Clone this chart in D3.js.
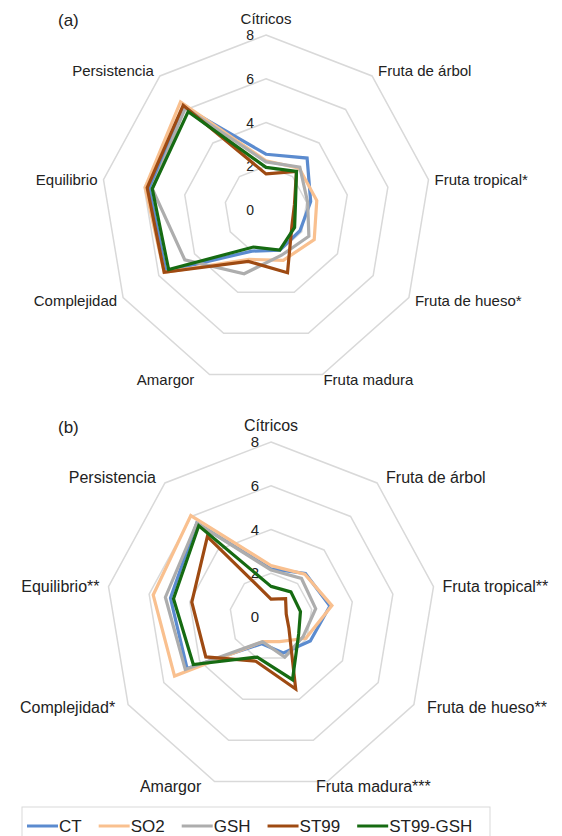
<!DOCTYPE html>
<html>
<head>
<meta charset="utf-8">
<script src="https://cdn.jsdelivr.net/npm/d3@7"></script>
<style>
  body { margin: 0; background: #fff; }
  svg { display: block; font-family: "Liberation Sans", Arial, sans-serif; }
</style>
</head>
<body>
<svg width="562" height="836"></svg>
<script>
// attribute axes, clockwise from the top
const axesA = ["Cítricos", "Fruta de árbol", "Fruta tropical*", "Fruta de hueso*", "Fruta madura",
               "Amargor", "Complejidad", "Equilibrio", "Persistencia"];
const axesB = ["Cítricos", "Fruta de árbol", "Fruta tropical**", "Fruta de hueso**", "Fruta madura***",
               "Amargor", "Complejidad*", "Equilibrio**", "Persistencia"];

const seriesNames = ["CT", "SO2", "GSH", "ST99", "ST99-GSH"];
const seriesColors = ["#5b8bcf", "#f9c08f", "#adadad", "#9e4a12", "#166b12"];

const ticks = [0, 2, 4, 6, 8];

// panel (a) scores
const ctA     = [2.55, 3.1, 2.2, 1.9, 1.95, 2.0, 5.6, 5.75, 6.15];
const so2A    = [2.25, 2.5, 2.5, 2.7, 2.45, 2.4, 5.7, 5.95, 6.45];
const gshA    = [2.2, 2.55, 2.05, 2.4, 2.2, 3.1, 4.55, 5.6, 6.1];
const st99A   = [1.65, 2.3, 1.4, 1.45, 3.05, 2.5, 5.7, 5.85, 6.25];
const st99gA  = [1.95, 2.3, 1.45, 1.6, 1.95, 1.8, 5.45, 5.6, 5.87];

// panel (b) scores
const ctB     = [2.2, 2.6, 2.9, 2.2, 1.75, 1.3, 4.7, 4.95, 5.6];
const so2B    = [2.35, 2.55, 3.0, 1.95, 1.2, 1.2, 5.4, 5.8, 6.05];
const gshB    = [2.15, 2.3, 2.2, 1.8, 1.95, 1.2, 4.8, 5.2, 5.6];
const st99B   = [0.82, 1.1, 0.75, 1.0, 3.5, 2.15, 3.65, 3.9, 4.8];
const st99gB  = [1.4, 1.5, 1.45, 1.55, 3.05, 1.95, 4.35, 4.8, 5.45];

const svg = d3.select("svg");

// plot area is a little narrower than tall
const rx = d3.scaleLinear().domain([0, 8]).range([0, 165]);
const ry = d3.scaleLinear().domain([0, 8]).range([0, 175]);

function drawRadar(tag, axes, data, cx, cy, fontSize, gap, extra) {
    const g = svg.append("g").attr("transform", `translate(${cx},${cy})`);
    const n = axes.length;
    const angle = d3.scaleLinear().domain([0, n]).range([0, 2 * Math.PI]);
    const px = (v, i) => rx(v) * Math.sin(angle(i));
    const py = (v, i) => -ry(v) * Math.cos(angle(i));

    const ring = d3.line()
        .x(d => px(d.v, d.i))
        .y(d => py(d.v, d.i))
        .curve(d3.curveLinearClosed);

    // grid rings
    g.selectAll("path.grid")
        .data(ticks.filter(t => t > 0))
        .join("path")
        .attr("class", "grid")
        .attr("d", t => ring(d3.range(n).map(i => ({v: t, i}))))
        .attr("fill", "none")
        .attr("stroke", "#d9d9d9")
        .attr("stroke-width", 1.5);

    // scale labels
    g.selectAll("text.tick")
        .data(ticks)
        .join("text")
        .attr("class", "tick")
        .attr("x", -12)
        .attr("y", t => -ry(t) + 5)
        .attr("text-anchor", "end")
        .attr("font-size", fontSize - 1)
        .attr("fill", "#222")
        .text(t => t);

    // series
    g.selectAll("path.series")
        .data(data)
        .join("path")
        .attr("class", "series")
        .attr("d", vals => ring(vals.map((v, i) => ({v, i}))))
        .attr("fill", "none")
        .attr("stroke", (d, k) => seriesColors[k])
        .attr("stroke-width", 3.2)
        .attr("stroke-linejoin", "miter");

    // axis labels
    axes.forEach((name, i) => {
        const deg = i * 360 / n;
        const x = px(8, i), y = py(8, i);
        let anchor = "middle", dx = 0, dy = 0;
        if (deg === 0) { dy = -11; }
        else if (deg < 150) { anchor = "start"; dx = gap + (deg > 100 ? extra : 0); dy = deg < 60 ? 0 : deg < 100 ? 5 : 8; }
        else if (deg < 180) { dx = 46; dy = 11; }
        else if (deg < 220) { dx = -44; dy = 11; }
        else { anchor = "end"; dx = -gap - (deg < 260 ? extra : 0); dy = deg < 260 ? 8 : deg < 300 ? 5 : 0; }
        g.append("text")
            .attr("x", x + dx)
            .attr("y", y + dy)
            .attr("text-anchor", anchor)
            .attr("font-size", fontSize)
            .attr("fill", "#222")
            .text(name);
    });

    svg.append("text")
        .attr("x", 58)
        .attr("y", cy - 184)
        .attr("font-size", 17)
        .attr("fill", "#222")
        .text(tag);
}

drawRadar("(a)", axesA, [ctA, so2A, gshA, st99A, st99gA], 266, 210, 15, 6, 0);
drawRadar("(b)", axesB, [ctB, so2B, gshB, st99B, st99gB], 271, 617, 16, 9, 4);

// legend
const legend = svg.append("g");
legend.append("rect")
    .attr("x", 22).attr("y", 807)
    .attr("width", 468).attr("height", 40)
    .attr("fill", "#fff")
    .attr("stroke", "#d9d9d9");

let lx = 27;
seriesNames.forEach((name, k) => {
    legend.append("line")
        .attr("x1", lx).attr("x2", lx + 31)
        .attr("y1", 826).attr("y2", 826)
        .attr("stroke", seriesColors[k])
        .attr("stroke-width", 3);
    const t = legend.append("text")
        .attr("x", lx + 32)
        .attr("y", 832)
        .attr("font-size", 17)
        .attr("fill", "#222")
        .text(name);
    lx += 32 + t.node().getComputedTextLength() + 17;
});
</script>
</body>
</html>
